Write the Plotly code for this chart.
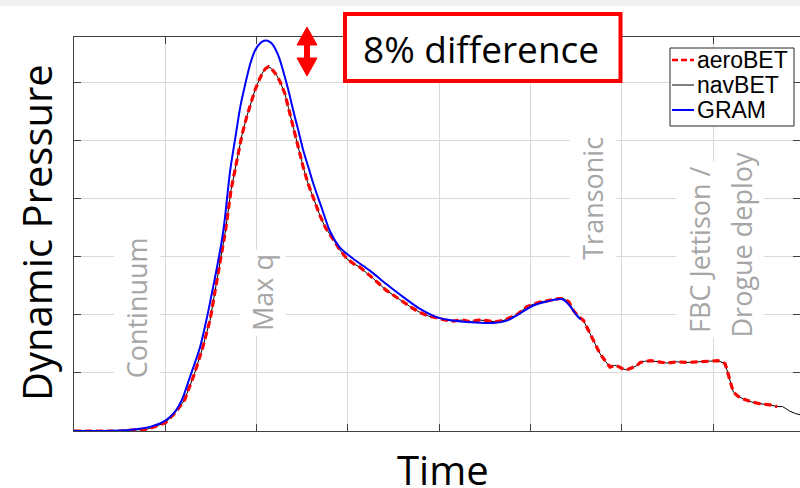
import plotly.graph_objects as go

# ---------------- data ----------------
time_gram = [0.0, 0.5, 0.72, 0.85, 1.0, 1.10, 1.18, 1.27, 1.38, 1.45, 1.51, 1.56, 1.62,
             1.65, 1.71, 1.77, 1.82, 1.88, 1.93, 1.98, 2.02, 2.06, 2.10, 2.14, 2.18,
             2.24, 2.29, 2.35, 2.40, 2.46, 2.51, 2.57, 2.62, 2.71, 2.80, 2.91, 3.06,
             3.24, 3.42, 3.61, 3.79, 3.97, 4.15, 4.34, 4.59, 4.74, 4.88, 5.03, 5.18,
             5.34, 5.41, 5.52, 5.55]
q_gram = [0.0, 0.01, 0.04, 0.08, 0.18, 0.32, 0.53, 0.93, 1.44, 1.91, 2.37, 2.77, 3.29,
          3.63, 4.48, 5.08, 5.57, 6.00, 6.32, 6.54, 6.64, 6.70, 6.72, 6.70, 6.64,
          6.45, 6.20, 5.85, 5.52, 5.15, 4.83, 4.52, 4.26, 3.85, 3.45, 3.16, 2.96,
          2.76, 2.53, 2.30, 2.10, 1.96, 1.90, 1.87, 1.86, 1.90, 2.02, 2.16, 2.23,
          2.27, 2.19, 1.96, 1.92]

time_aero = [0.0, 0.5, 0.8, 1.0, 1.10, 1.21, 1.32, 1.41, 1.49, 1.54, 1.60, 1.66, 1.72,
             1.78, 1.84, 1.89, 1.94, 1.98, 2.03, 2.07, 2.10, 2.13, 2.16, 2.19, 2.22,
             2.26, 2.31, 2.35, 2.40, 2.45, 2.51, 2.56, 2.62, 2.69, 2.75, 2.84, 2.92,
             2.99, 3.06, 3.13, 3.20, 3.28, 3.42, 3.52, 3.61, 3.70, 3.79, 3.88, 3.97,
             4.06, 4.15, 4.25, 4.34, 4.43, 4.52, 4.60, 4.66, 4.72, 4.77, 4.83, 4.88,
             4.96, 5.03, 5.10, 5.18, 5.25, 5.31, 5.36, 5.42, 5.47, 5.52, 5.58, 5.63,
             5.69, 5.76, 5.82, 5.87, 5.92, 5.96, 6.01, 6.05, 6.11, 6.16, 6.20, 6.25,
             6.31, 6.40, 6.49, 6.60, 6.71, 6.83, 6.96, 7.05, 7.13, 7.15, 7.17, 7.22,
             7.27, 7.33, 7.42, 7.51, 7.62, 7.70]
q_aero = [0.0, 0.0, 0.03, 0.14, 0.30, 0.53, 0.99, 1.44, 1.91, 2.37, 2.88, 3.46, 4.15,
          4.60, 5.10, 5.40, 5.65, 5.86, 6.05, 6.18, 6.24, 6.27, 6.24, 6.18, 6.12,
          6.00, 5.80, 5.55, 5.23, 4.90, 4.54, 4.27, 4.02, 3.72, 3.51, 3.28, 3.10,
          2.96, 2.88, 2.82, 2.73, 2.62, 2.42, 2.31, 2.22, 2.12, 2.04, 1.98, 1.95,
          1.91, 1.89, 1.91, 1.88, 1.91, 1.90, 1.88, 1.89, 1.91, 1.95, 1.98, 2.04,
          2.14, 2.18, 2.22, 2.24, 2.26, 2.28, 2.28, 2.22, 2.07, 1.98, 1.90, 1.74,
          1.56, 1.33, 1.20, 1.10, 1.13, 1.11, 1.07, 1.05, 1.09, 1.12, 1.18, 1.20,
          1.21, 1.19, 1.17, 1.19, 1.18, 1.19, 1.20, 1.21, 1.16, 1.05, 0.93, 0.67,
          0.60, 0.55, 0.50, 0.47, 0.45, 0.42]

time_nav = time_aero + [7.76, 7.84, 7.90, 7.95]
q_nav = q_aero + [0.42, 0.34, 0.30, 0.28]

series_names = ["aeroBET", "navBET", "GRAM"]
phase_labels = ["Continuum", "Max q", "Transonic", "FBC Jettison /", "Drogue deploy"]
x_ticks = [0, 1, 2, 3, 4, 5, 6, 7, 8]
y_ticks = [0, 1, 2, 3, 4, 5, 6]

# ---------------- layout helpers ----------------
W, H = 800, 488
L, R, T, B = 74, 0, 37, 57


def px(xp):
    return (xp - L) / (W - L - R)


def py(yp):
    return (H - B - yp) / (H - T - B)


styles = {
    "aeroBET": dict(color="#ff0000", width=3.2, dash="7px,4px"),
    "navBET": dict(color="black", width=1, dash="solid"),
    "GRAM": dict(color="#0000ff", width=2, dash="solid"),
}

fig = go.Figure()
fig.add_trace(go.Scatter(x=time_nav, y=q_nav, name=series_names[1], mode="lines",
                         line=styles["navBET"]))
fig.add_trace(go.Scatter(x=time_aero, y=q_aero, name=series_names[0], mode="lines",
                         line=styles["aeroBET"]))
fig.add_trace(go.Scatter(x=time_gram, y=q_gram, name=series_names[2], mode="lines",
                         line=dict(shape="spline", smoothing=0.8, **styles["GRAM"])))

axis_common = dict(showticklabels=False, ticks="inside", ticklen=7, tickcolor="#404040",
                   showline=True, linecolor="#404040", linewidth=1, mirror="ticks",
                   showgrid=True, gridcolor="#d9d9d9", gridwidth=1, zeroline=False)

fig.update_layout(
    width=W, height=H,
    margin=dict(l=L, r=R, t=T, b=B, pad=0),
    paper_bgcolor="white", plot_bgcolor="white",
    xaxis=dict(range=[0, 7.95], tickvals=x_ticks, **axis_common),
    yaxis=dict(range=[0, 6.78], tickvals=y_ticks, **axis_common),
    showlegend=False,
)

label_font = dict(family="Open Sans", size=27, color="#a6a6a6")
label_pos = [(0.689, 2.126), (2.07, 2.375), (5.678, 4.005), (6.855, 3.115), (7.304, 3.21)]
for text, (lx, ly) in zip(phase_labels, label_pos):
    fig.add_annotation(x=lx, y=ly, xref="x", yref="y", text=text, showarrow=False,
                       textangle=-90, font=label_font, bgcolor="white", borderpad=4)

# axis titles
fig.add_annotation(x=px(36), y=py(233), xref="paper", yref="paper", text="Dynamic Pressure",
                   showarrow=False, textangle=-90, xanchor="center", yanchor="middle",
                   font=dict(family="Open Sans", size=40, color="black"))
fig.add_annotation(x=px(443), y=py(469), xref="paper", yref="paper", text="Time",
                   showarrow=False, xanchor="center", yanchor="middle",
                   font=dict(family="Open Sans", size=40, color="black"))

# top grey strip
fig.add_shape(type="rect", xref="paper", yref="paper", x0=px(0), x1=px(800), y0=py(0), y1=py(5.7),
              line=dict(width=0), fillcolor="#f0f0f0", layer="above")

# legend box (drawn as decoration, entries from series_names / styles)
fig.add_shape(type="rect", xref="paper", yref="paper", x0=px(670), x1=px(794), y0=py(126), y1=py(48),
              line=dict(color="#262626", width=1), fillcolor="white", layer="above")
for i, name in enumerate(series_names):
    yc = 60 + 25 * i
    st = styles[name]
    fig.add_shape(type="line", xref="paper", yref="paper", x0=px(672), x1=px(694),
                  y0=py(yc), y1=py(yc), layer="above",
                  line=dict(color=st["color"], width=min(st["width"], 2.5),
                            dash="6px,3px" if name == "aeroBET" else "solid"))
    fig.add_annotation(x=px(695), y=py(yc), xref="paper", yref="paper", text=name,
                       showarrow=False, xanchor="left", yanchor="middle",
                       font=dict(family="Liberation Sans, Arial", size=23, color="black"))

# red box with text
fig.add_shape(type="rect", xref="paper", yref="paper", x0=px(345), x1=px(620.5), y0=py(81), y1=py(14),
              line=dict(color="#ff0000", width=4), fillcolor="white", layer="above")
fig.add_annotation(x=px(481), y=py(49), xref="paper", yref="paper", text="8% difference",
                   showarrow=False, xanchor="center", yanchor="middle",
                   font=dict(family="Open Sans", size=37, color="black"))

# red double arrow
pts = [(307, 27), (317, 45), (309.5, 45), (309.5, 58), (317, 58), (307, 76),
       (297, 58), (304.5, 58), (304.5, 45), (297, 45)]
path = "M " + " L ".join(f"{px(a):.5f},{py(b):.5f}" for a, b in pts) + " Z"
fig.add_shape(type="path", xref="paper", yref="paper", path=path,
              line=dict(color="#ff0000", width=1), fillcolor="#ff0000", layer="above")

fig.write_html("out.html")
